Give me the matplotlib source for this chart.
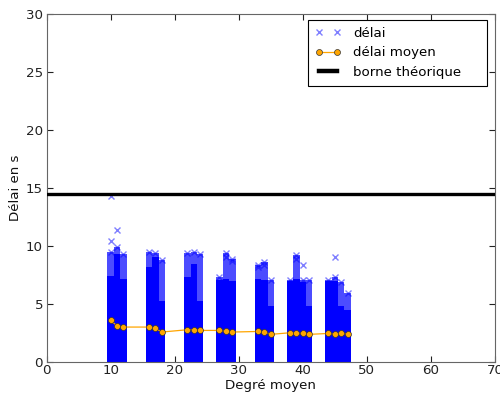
import matplotlib
matplotlib.use("Agg")
import matplotlib.pyplot as plt
from matplotlib.lines import Line2D

# ---- data ----
degrees = [10, 11, 12, 16, 17, 18, 22, 23, 24, 27, 28, 29, 33, 34, 35, 38, 39, 40, 41, 44, 45, 46, 47]
mean_delay = [3.59, 3.13, 3.02, 3.02, 2.90, 2.59, 2.79, 2.79, 2.73, 2.73, 2.64, 2.59,
              2.64, 2.59, 2.39, 2.53, 2.47, 2.47, 2.39, 2.47, 2.41, 2.47, 2.41]
# height up to which the delay markers are saturated (solid)
dense_top = [7.4, 9.3, 7.2, 8.2, 9.1, 5.3, 7.35, 8.5, 5.3, 7.07, 7.2, 7.0,
             7.2, 7.1, 4.8, 7.0, 7.2, 6.9, 4.8, 7.0, 7.0, 4.8, 4.5]
# height of the highest markers of the cloud
cloud_top = [9.5, 9.9, 9.3, 9.5, 9.4, 8.8, 9.4, 9.5, 9.3, 7.35, 9.37, 8.9,
             8.36, 8.6, 7.07, 7.1, 9.2, 7.1, 7.07, 7.1, 7.35, 6.9, 6.0]
outlier_x = [10, 10, 11, 40, 45, 39, 29, 28, 33, 34]
outlier_y = [14.3, 10.45, 11.4, 8.4, 9.05, 8.9, 8.7, 9.1, 8.2, 8.4]
bound = 14.5

FS = 9.6
fig = plt.figure(figsize=(5.0, 3.94), dpi=100)
ax = fig.add_axes([0.093, 0.081, 0.897, 0.883])

# cloud of delay points (saturated body + lighter upper part)
ax.bar(degrees, dense_top, width=1.0, color='blue', edgecolor='none', zorder=2)
cloud_h = [t - d for t, d in zip(cloud_top, dense_top)]
ax.bar(degrees, cloud_h, bottom=dense_top, width=1.0, color='blue', alpha=0.7,
       edgecolor='none', zorder=2)
ax.plot(degrees, cloud_top, linestyle='none', marker='x', color='blue', alpha=0.5,
        markersize=5, zorder=3)
ax.plot(outlier_x, outlier_y, linestyle='none', marker='x', color='blue', alpha=0.5,
        markersize=5, zorder=3)

# mean delay
ax.plot(degrees, mean_delay, color='orange', linewidth=0.9, marker='o', markersize=4.3,
        markerfacecolor='orange', markeredgecolor='#333333', markeredgewidth=0.5, zorder=4)

# theoretical bound
ax.axhline(bound, color='black', linewidth=2.4, zorder=5)

ax.set_xlim(0, 70)
ax.set_ylim(0, 30)
ax.set_xticks(range(0, 71, 10))
ax.set_yticks(range(0, 31, 5))
ax.tick_params(direction='in', top=True, right=True, labelsize=FS, length=4,
               colors='#222222')
ax.tick_params(axis='x', pad=1.5)
ax.tick_params(axis='y', pad=2.5)
for s in ax.spines.values():
    s.set_color('#666666')
ax.set_xlabel('Degré moyen', fontsize=FS, labelpad=1, color='#111111')
ax.set_ylabel('Délai en s', fontsize=FS, labelpad=3, color='#111111')

handles = [
    Line2D([], [], linestyle='none', marker='x', color='blue', alpha=0.5, markersize=5),
    Line2D([], [], color='orange', linewidth=0.9, marker='o', markersize=4.3,
           markerfacecolor='orange', markeredgecolor='#333333', markeredgewidth=0.5),
    Line2D([], [], color='black', linewidth=3.2),
]
leg = ax.legend(handles, ['délai', 'délai moyen', 'borne théorique'],
                loc='upper left', bbox_to_anchor=(0.583, 0.0, 0.3986, 0.983),
                mode='expand', borderaxespad=0,
                numpoints=2, fontsize=FS, fancybox=False, framealpha=1,
                edgecolor='black', handlelength=2.0, handletextpad=0.9,
                borderpad=0.5, labelspacing=0.5)
leg.get_frame().set_linewidth(0.8)

fig.savefig('out.png', dpi=100)
